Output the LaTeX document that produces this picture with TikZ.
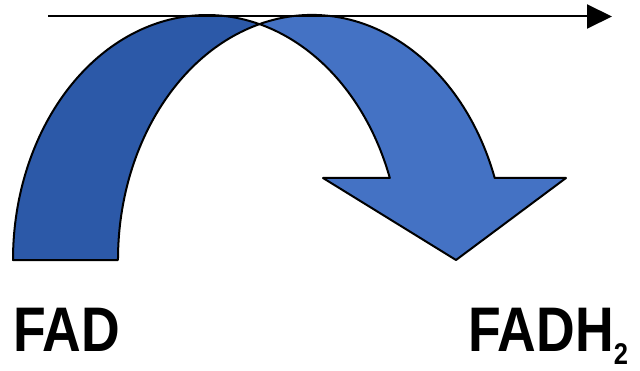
\documentclass[tikz,border=0pt]{standalone}
\usepackage{fontspec}
\usetikzlibrary{arrows.meta}
\newfontfamily\labfont[FakeStretch=0.85]{Liberation Sans}
\definecolor{bandDark}{RGB}{44,89,168}
\definecolor{bandLight}{RGB}{68,114,196}
\tikzset{
  band/.style={draw=black, line width=2pt, line join=round},
  lab/.style={inner sep=0pt, anchor=base west, font=\labfont\bfseries\fontsize{63}{70}\selectfont},
  flow/.style={line width=2pt, -{Triangle[length=25pt,width=24pt]}}
}
\begin{document}
\begin{tikzpicture}[x=1pt,y=1pt]
\useasboundingbox (0,0) rectangle (640,370);
% dark (back) band
\fill[bandDark, band] (13,110) arc[start angle=180, end angle=74.3, x radius=194, y radius=245]
  arc[start angle=105.7, end angle=180, x radius=194, y radius=245] -- cycle;
% light (front) band with arrow head
\coordinate (cross) at (259.4,345.9);
\fill[bandLight, band] (cross) arc[start angle=105.7, end angle=19.55, x radius=194, y radius=245]
  -- (566,192) -- (456,110) -- (323,192) -- (389.8,192)
  arc[start angle=19.55, end angle=74.3, x radius=194, y radius=245] -- cycle;
% top arrow
\coordinate (s) at (48,353.5);
\coordinate (e) at (612,353.5);
\draw[flow] (s) -- (e);
% labels
\node[lab] (fad) at (13,19) {FAD};
\node[lab] (fadh) at (468,19) {FADH\raisebox{-13pt}{\fontsize{30}{30}\selectfont 2}};
\end{tikzpicture}
\end{document}
